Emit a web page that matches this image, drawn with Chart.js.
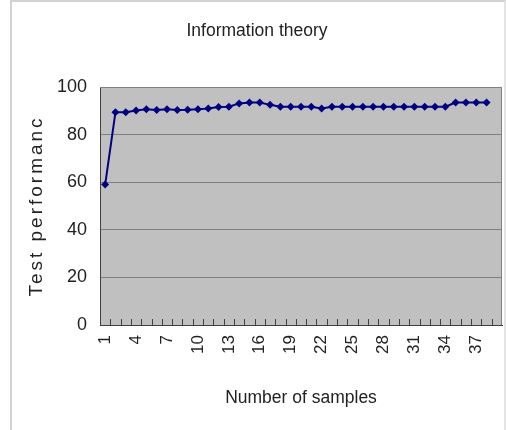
<!DOCTYPE html>
<html lang="en">
<head>
<meta charset="UTF-8">
<title>Information theory</title>
<style>
    html, body { margin: 0; padding: 0; background: #fff; }
    #wrap { position: relative; width: 506px; height: 430px; }
    #frame { position: absolute; left: 10px; top: 0; width: 496px; height: 430px;
             border-left: 2px solid #d2d2d2; border-top: 2px solid #d2d2d2; border-right: 2px solid #e4e4e4;
             box-sizing: border-box; pointer-events: none; }
</style>
</head>
<body>

<div id="wrap">
    <canvas id="chart" width="506" height="430"></canvas>
    <div id="frame"></div>
</div>

<script src="https://cdn.jsdelivr.net/npm/chart.js"></script>

<script>
    // 39 categories on the axis, the last one has no point
    const samples = [];
    for (let i = 1; i <= 39; i++) samples.push(String(i));

    const performance = [
        59, 89.4, 89.4, 90.1, 90.6, 90.3, 90.6, 90.3, 90.4, 90.6,
        91, 91.6, 91.7, 93.1, 93.5, 93.5, 92.5, 91.7, 91.7, 91.7,
        91.7, 91, 91.7, 91.7, 91.7, 91.7, 91.7, 91.7, 91.7, 91.7,
        91.7, 91.7, 91.7, 91.7, 93.5, 93.5, 93.5, 93.5
    ];

    const yTicks = [0, 20, 40, 60, 80, 100];

    const fontFamily = '"Liberation Sans", Arial, sans-serif';
    const textColor = '#222';

    // grey plot area with border, plus small inside tick marks on the x axis
    const plotArea = {
        id: 'plotArea',
        beforeDraw(chart) {
            const { ctx, chartArea: a } = chart;
            ctx.save();
            ctx.fillStyle = '#c0c0c0';
            ctx.fillRect(a.left, a.top, a.right - a.left, a.bottom - a.top);
            ctx.restore();
        },
        afterDraw(chart) {
            const { ctx, chartArea: a } = chart;
            const x = chart.scales.x;
            ctx.save();
            ctx.strokeStyle = '#808080';
            ctx.lineWidth = 1;
            ctx.beginPath();
            ctx.moveTo(a.left, a.top + 0.5);
            ctx.lineTo(a.right - 0.5, a.top + 0.5);
            ctx.lineTo(a.right - 0.5, a.bottom);
            ctx.stroke();
            ctx.strokeStyle = '#404040';
            ctx.beginPath();
            for (let i = 0; i < samples.length; i++) {
                const px = Math.round(x.left + i * (x.right - x.left) / samples.length) + 0.5;
                ctx.moveTo(px, a.bottom);
                ctx.lineTo(px, a.bottom - 6);
            }
            ctx.stroke();
            ctx.restore();
        }
    };

    // the y title in the original is spread out, give it some letter spacing
    function spaceTitle(scale, spacing) {
        if (scale._spaced) return;
        const orig = scale.drawTitle;
        scale.drawTitle = function () {
            this.ctx.save();
            this.ctx.letterSpacing = spacing;
            orig.apply(this, arguments);
            this.ctx.restore();
        };
        scale._spaced = true;
    }

    new Chart(document.getElementById('chart'), {
        type: 'line',
        data: {
            labels: samples,
            datasets: [{
                data: performance,
                borderColor: '#000080',
                backgroundColor: '#000080',
                borderWidth: 2,
                pointStyle: 'rectRot',
                pointRadius: 4,
                pointBorderWidth: 0,
                tension: 0
            }]
        },
        options: {
            responsive: false,
            animation: false,
            layout: { padding: { left: 12, right: 4, top: 0, bottom: 0 } },
            plugins: {
                legend: { display: false },
                tooltip: { enabled: false },
                title: {
                    display: true,
                    text: 'Information theory',
                    color: textColor,
                    font: { family: fontFamily, size: 17.5, weight: 'normal' },
                    padding: { top: 20.5, bottom: 45.5 }
                }
            },
            scales: {
                x: {
                    offset: true,
                    grid: { display: false },
                    border: { display: true, color: '#404040', width: 1 },
                    ticks: {
                        autoSkip: false,
                        minRotation: 90,
                        maxRotation: 90,
                        padding: 2,
                        color: textColor,
                        font: { family: fontFamily, size: 17 },
                        callback: (v, i) => (i % 3 === 0 ? samples[i] : '')
                    },
                    title: {
                        display: true,
                        text: 'Number of samples',
                        color: textColor,
                        font: { family: fontFamily, size: 17.5 },
                        padding: { top: 4, bottom: 21.5 }
                    },
                    afterFit(scale) {
                        scale.height = 105;
                        scale.paddingLeft = 0;
                        scale.paddingRight = 0;
                    }
                },
                y: {
                    min: 0,
                    max: 100,
                    afterBuildTicks(scale) { scale.ticks = yTicks.map(v => ({ value: v })); },
                    grid: { color: '#808080', lineWidth: 1, drawTicks: false },
                    border: { display: true, color: '#404040', width: 1 },
                    ticks: {
                        padding: 13,
                        color: textColor,
                        font: { family: fontFamily, size: 18 }
                    },
                    title: {
                        display: true,
                        text: 'Test performanc',
                        color: textColor,
                        font: { family: fontFamily, size: 19 },
                        padding: { top: 13.5, bottom: 0 }
                    },
                    afterFit(scale) {
                        scale.width = 88;
                        scale.paddingTop = 0;
                        scale.paddingBottom = 0;
                        spaceTitle(scale, '3px');
                    }
                }
            }
        },
        plugins: [plotArea]
    });
</script>

</body>
</html>
